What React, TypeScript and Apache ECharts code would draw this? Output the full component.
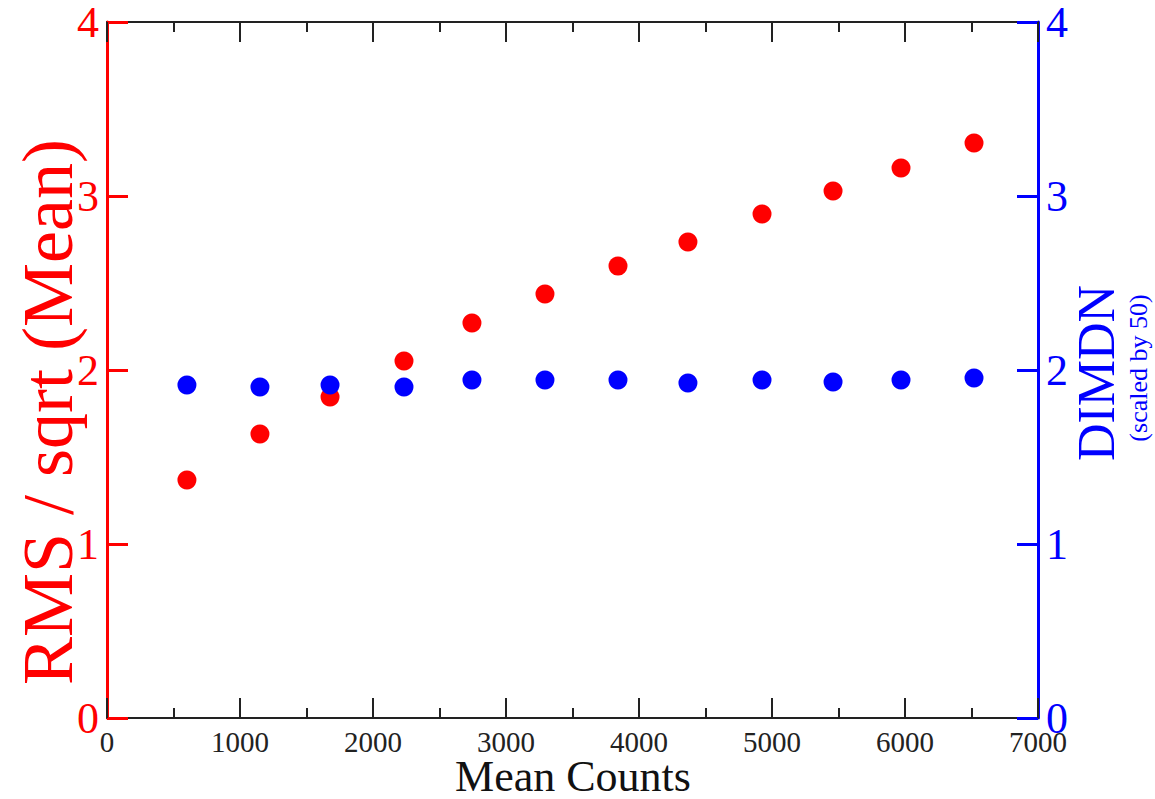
import React, { useEffect, useRef } from "react";
import * as echarts from "echarts";

const meanCounts = [601, 1150, 1677, 2233, 2744, 3293, 3842, 4368, 4925, 5459, 5970, 6519];
const rmsOverSqrtMean = [1.368, 1.632, 1.845, 2.052, 2.27, 2.437, 2.598, 2.736, 2.897, 3.029, 3.161, 3.305];
const dimdnScaled = [1.914, 1.902, 1.914, 1.902, 1.943, 1.943, 1.943, 1.925, 1.943, 1.931, 1.943, 1.954];

const xTitle = "Mean Counts";
const leftTitle = "RMS / sqrt (Mean)";
const rightTitle = "DIMDN";
const rightSubtitle = "(scaled by 50)";

const FONT = '"Liberation Serif", "Times New Roman", serif';
const RED = "#ff0000";
const BLUE = "#0000ff";

export default function App() {
  const ref = useRef<HTMLDivElement>(null);
  useEffect(() => {
    document.body.style.margin = "0";
    if (!ref.current) return;
    const chart = echarts.init(ref.current, null, { renderer: "svg" });
    const redData = meanCounts.map((x, i) => [x, rmsOverSqrtMean[i]]);
    const blueData = meanCounts.map((x, i) => [x, dimdnScaled[i]]);
    const xCommon = {
      type: "value",
      min: 0,
      max: 7000,
      interval: 1000,
      splitLine: { show: false },
      axisLine: { show: true, onZero: false, lineStyle: { color: "#222", width: 2 } },
      axisTick: { show: true, inside: true, length: 20, lineStyle: { color: "#222", width: 2 } },
      minorTick: { show: true, splitNumber: 2, length: 10, lineStyle: { color: "#222", width: 2 } },
      minorSplitLine: { show: false },
    };
    chart.setOption({
      animation: false,
      backgroundColor: "#ffffff",
      grid: { left: 107, right: 117, top: 22, bottom: 81, containLabel: false },
      xAxis: [
        {
          ...xCommon,
          position: "bottom",
          axisLabel: {
            color: "#222",
            fontFamily: FONT,
            fontSize: 29,
            margin: 9,
            formatter: (v: number) => String(v),
          },
        },
        {
          ...xCommon,
          position: "top",
          axisLabel: { show: false },
        },
      ],
      yAxis: [
        {
          type: "value",
          position: "left",
          min: 0,
          max: 4,
          interval: 1,
          splitLine: { show: false },
          axisLine: { show: true, onZero: false, lineStyle: { color: RED, width: 3 } },
          axisTick: { show: true, inside: true, length: 21, lineStyle: { color: RED, width: 3 } },
          axisLabel: { color: RED, fontFamily: FONT, fontSize: 44, margin: 8 },
        },
        {
          type: "value",
          position: "right",
          min: 0,
          max: 4,
          interval: 1,
          splitLine: { show: false },
          axisLine: { show: true, onZero: false, lineStyle: { color: BLUE, width: 3 } },
          axisTick: { show: true, inside: true, length: 21, lineStyle: { color: BLUE, width: 3 } },
          axisLabel: { color: BLUE, fontFamily: FONT, fontSize: 44, margin: 8 },
        },
      ],
      series: [
        {
          type: "scatter",
          xAxisIndex: 0,
          yAxisIndex: 0,
          data: redData,
          symbol: "circle",
          symbolSize: 19,
          itemStyle: { color: RED, opacity: 1 },
        },
        {
          type: "scatter",
          xAxisIndex: 0,
          yAxisIndex: 1,
          data: blueData,
          symbol: "circle",
          symbolSize: 19,
          itemStyle: { color: BLUE, opacity: 1 },
        },
      ],
      graphic: [
        {
          type: "text",
          x: 573,
          y: 776,
          style: {
            text: xTitle,
            fill: "#111",
            font: `44px ${FONT}`,
            textAlign: "center",
            textVerticalAlign: "middle",
          },
        },
        {
          type: "text",
          x: 48,
          y: 412,
          rotation: Math.PI / 2,
          style: {
            text: leftTitle,
            fill: RED,
            font: `72px ${FONT}`,
            textAlign: "center",
            textVerticalAlign: "middle",
          },
        },
        {
          type: "text",
          x: 1096,
          y: 373,
          rotation: Math.PI / 2,
          style: {
            text: rightTitle,
            fill: BLUE,
            font: `52px ${FONT}`,
            textAlign: "center",
            textVerticalAlign: "middle",
          },
        },
        {
          type: "text",
          x: 1138,
          y: 368,
          rotation: Math.PI / 2,
          style: {
            text: rightSubtitle,
            fill: BLUE,
            font: `26px ${FONT}`,
            textAlign: "center",
            textVerticalAlign: "middle",
          },
        },
      ],
    });
    return () => chart.dispose();
  }, []);
  return <div ref={ref} style={{ width: 1155, height: 799 }} />;
}
